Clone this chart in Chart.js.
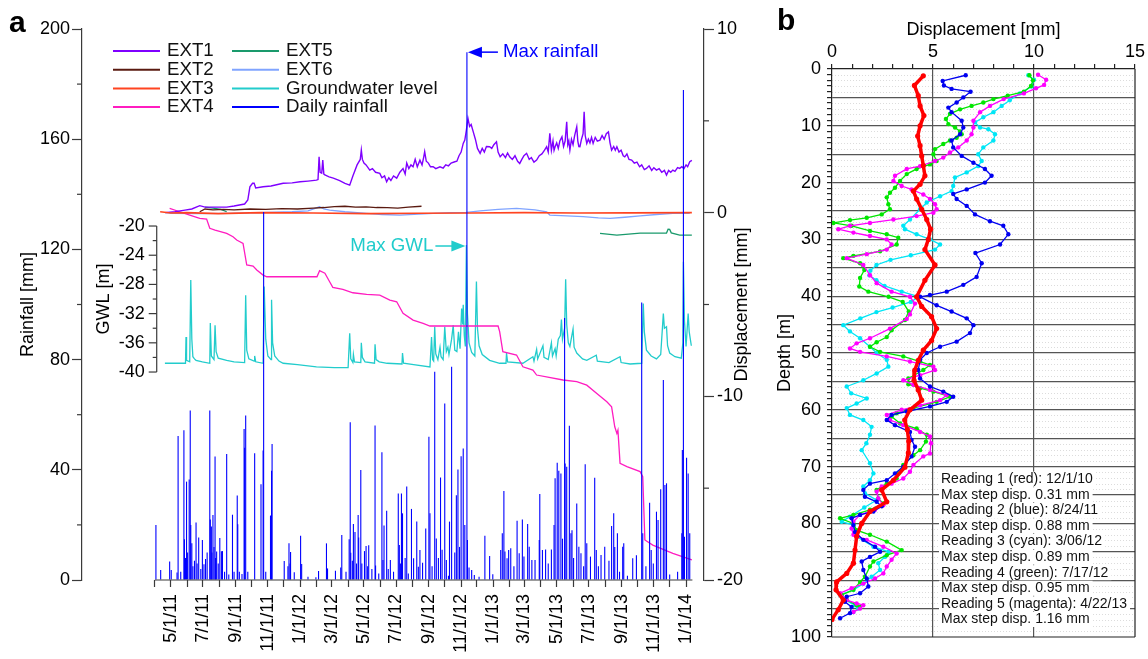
<!DOCTYPE html>
<html>
<head>
<meta charset="utf-8">
<title>Rainfall, groundwater level and displacement</title>
<script src="https://cdn.jsdelivr.net/npm/chart.js@4.4.1/dist/chart.umd.min.js"></script>
<style>
  body { margin: 0; background: #fff; }
  #chartA { position: absolute; left: 0; top: 0; }
  #chartB { position: absolute; left: 773px; top: 0; }
</style>
</head>
<body>
<canvas id="chartA" width="773" height="659"></canvas>
<canvas id="chartB" width="375" height="659"></canvas>
<script>
// ---------- panel a: days counted from 4/1/2011 ----------
const monthDays = [0,30,61,91,122,153,183,214,244,275,306,335,366,396,427,457,488,519,549,580,610,641,672,700,731,761,792,822,853,884,914,945,975,1006];
const monthLabels = ['','5/1/11','','7/1/11','','9/1/11','','11/1/11','','1/1/12','','3/1/12','','5/1/12','','7/1/12','','9/1/12','','11/1/12','','1/1/13','','3/1/13','','5/1/13','','7/1/13','','9/1/13','','11/1/13','','1/1/14'];
const rainMajor = [0, 40, 80, 120, 160, 200];
const rainMinor = [20, 60, 100, 140, 180];
const dispMajor = [-20, -10, 0, 10];
const dispMinor = [-15, -5, 5];
const gwlMajor = [-20, -24, -28, -32, -36, -40];
const gwlMinor = [-22, -26, -30, -34, -38];

// daily rainfall [mm]
const rainDays = [2,11,28,31,42,44,49,55,56,58,60,62,65,67,68,70,72,75,78,80,83,87,90,93,96,99,104,105,107,108,110,112,114,115,117,120,123,126,128,132,136,140,147,150,156,157,160,165,169,170,172,176,189,201,205,206,210,219,221,222,245,252,254,256,257,264,276,278,290,305,310,325,327,342,352,354,362,368,370,371,374,376,379,382,385,386,390,392,397,400,403,405,411,417,418,424,430,432,434,439,442,446,452,461,463,465,467,469,474,477,480,486,490,496,499,502,507,513,519,521,525,530,533,537,541,544,549,552,556,558,562,568,571,574,577,580,584,587,591,592,595,600,605,614,625,634,640,655,658,661,663,667,670,674,680,686,690,696,699,706,709,714,720,728,729,734,740,745,751,756,758,762,765,769,772,776,777,780,785,788,790,793,799,803,807,812,815,818,825,833,836,840,845,852,860,865,869,871,876,880,886,888,895,905,912,922,924,930,937,940,944,950,953,958,963,966,969,975,990,998,999,1001,1003,1007,1010,1013];
const rainMm = [20,3.6,6.7,3.6,2.7,52.3,3,54.4,14.8,8,35.7,10,36.5,61.5,20,13.3,5,7,20.9,6,15.4,4,14.5,5.7,7.6,10,61.5,22,19.4,10,23.6,12,44.8,8,10.3,6,15.2,10.4,10.5,3,45.7,2,23.7,3,30.7,20.2,3,2.2,54.8,48,59.7,3,46,34.8,47,133.6,3,23.4,39.7,49.4,6.9,5,13.3,6,10.2,2.8,16.1,5.8,1.2,1,3.3,13.3,4.2,3.4,4.5,16.3,3,14.8,57.3,9.9,7,20.3,17.4,6,23.6,15.4,39.9,6,10.5,12.3,5,12.6,4,56.1,5.3,2.4,46.4,7.3,19.8,25.1,4,7.3,3,31.4,12.7,6,31.4,24.2,8,33.9,2.4,25.8,7.9,21.2,4.8,10.9,6.3,18.7,52,24.2,5,75.6,15.1,8,37.2,11,64.1,7.3,1.5,21.2,77.4,10,30.8,40.1,12,44.9,47.7,20,191.6,14.5,4.5,3.6,1.8,1.2,16.1,8.7,2.1,10.9,17,32.3,10.3,7.9,10.9,11.5,5,21.5,9.7,22,8.5,20.3,12.1,7.3,7.3,14.5,31.2,10.9,11.1,6,11.1,20,36.9,42.6,39.7,38.7,15,95.1,42.3,41.1,56,17,18.1,8,27.8,12.1,9.7,5,42,13.3,8.5,37.1,10.9,5,9.1,12.1,7,19.6,24.2,12,17,3,12.1,13.3,1.5,7.9,9,100.7,17,5,28,10.9,6,24.8,21.8,32.9,72.6,34.5,35.1,2,3,17,47.2,177.9,15.7,44.4,38.7,17];

// groundwater level [m]
const gwlDays = [19,50,58,59,60,66,68,70,72,75,78,90,104,105,107,112,114,116,120,136,150,170,172,174,178,188,189,191,205,207,210,214,220,221,223,227,235,243,270,306,340,366,369,371,375,376,378,390,391,393,398,416,417,419,425,440,468,469,471,490,521,524,526,528,530,532,536,540,542,546,549,552,555,557,562,565,568,572,575,578,581,583,584,586,588,590,592,595,600,606,609,611,614,620,634,653,665,666,668,697,716,718,723,725,735,737,745,751,753,758,760,764,768,770,772,776,778,780,783,786,792,794,799,810,818,836,838,860,881,883,900,922,925,927,931,940,950,958,963,965,969,971,975,985,997,1000,1001,1003,1006,1010,1012,1016];
const gwlM = [-38.8,-38.8,-38.8,-35.2,-38.4,-38.6,-27.4,-35.5,-37.9,-38.2,-38.4,-38.6,-38.8,-33.3,-37.8,-38.3,-33.6,-37.2,-38.1,-38.4,-38.6,-38.7,-29.5,-37.0,-38.2,-38.5,-37.8,-38.6,-38.8,-28.3,-35.5,-37.8,-38.3,-30.1,-36.0,-37.8,-38.5,-38.8,-39.0,-39.3,-39.4,-39.4,-34.7,-38.2,-38.7,-37.6,-38.6,-38.7,-36.0,-38.0,-38.6,-38.8,-36.2,-38.3,-38.6,-38.8,-38.9,-37.4,-38.8,-39.0,-39.3,-35.2,-38.3,-38.5,-33.8,-37.5,-38.3,-36.6,-37.9,-38.3,-33.8,-37.2,-36.6,-37.6,-35.5,-33.6,-37.0,-37.2,-34.5,-36.8,-31.3,-33.5,-30.8,-35.0,-36.5,-22.6,-32.0,-36.0,-37.3,-37.8,-27.6,-34.0,-36.4,-37.6,-38.4,-38.8,-38.8,-37.4,-38.6,-38.8,-37.9,-38.5,-36.9,-38.2,-36.4,-38.0,-38.3,-36.0,-37.8,-36.8,-37.8,-35.5,-35.0,-32.8,-35.5,-34.0,-27.3,-33.5,-36.0,-36.5,-34.1,-36.6,-37.4,-38.2,-38.4,-37.7,-38.5,-38.7,-37.9,-38.7,-38.9,-38.8,-30.6,-34.5,-37.0,-37.8,-38.2,-37.6,-32.0,-34.0,-33.8,-36.4,-37.4,-37.9,-38.1,-36.0,-24.9,-33.0,-36.5,-32.0,-34.5,-36.4];

// extensometers [mm]
const ext1Days = [19,38,57,70,85,95,110,136,150,170,176,180,185,188,191,205,220,243,260,275,290,306,309,311,313,316,318,320,322,330,338,350,360,369,375,383,389,391,393,396,400,407,412,418,426,430,435,439,443,447,452,458,464,470,474,477,481,485,489,493,497,502,506,509,511,514,518,522,527,532,540,546,551,556,561,568,572,576,580,584,587,590,593,596,599,603,607,611,616,620,624,628,634,638,642,647,650,654,659,664,668,672,677,682,687,691,695,699,704,709,713,718,723,728,733,738,742,745,748,751,754,756,758,761,764,767,771,774,777,780,782,784,786,789,792,795,799,801,803,805,808,811,813,815,818,821,824,827,830,834,838,843,847,851,855,859,862,865,869,872,875,879,883,887,890,894,898,903,908,913,918,922,927,931,936,941,945,950,955,960,965,969,973,977,981,985,990,994,998,1002,1006,1009,1013,1017];
const ext1Mm = [0,0.05,0.14,0.2,0.38,0.3,0.3,0.3,0.36,0.47,0.69,1.41,1.6,1.6,1.34,1.41,1.45,1.6,1.62,1.68,1.72,1.77,1.8,3.04,2.2,2.15,2.86,2.1,2.05,1.95,1.88,1.75,1.6,1.5,2.0,2.6,2.9,3.41,2.9,2.7,2.6,2.32,2.4,2.2,2.14,1.9,2.0,1.68,1.9,1.75,2.0,1.88,2.2,2.4,2.1,2.7,2.4,2.6,2.5,2.9,2.5,2.86,2.6,3.0,3.32,2.8,2.7,2.5,2.5,2.4,2.5,2.43,2.6,2.55,2.7,2.77,2.8,3.1,3.3,3.77,3.95,4.5,5.13,4.7,4.8,4.4,4.0,3.5,3.23,3.5,3.3,3.6,3.59,3.5,3.7,3.86,3.3,3.04,3.2,3.0,3.25,3.04,2.9,3.1,2.8,2.68,2.9,3.1,3.23,2.9,3.0,2.75,2.86,3.1,3.2,3.4,3.59,3.3,4.32,3.4,3.9,3.4,3.59,3.8,3.5,3.9,4.13,3.6,3.9,4.95,3.7,3.9,3.41,4.0,3.7,4.2,4.68,3.9,3.6,3.59,4.0,4.3,5.49,4.2,3.77,4.0,3.8,4.1,3.77,4.1,3.9,3.95,4.2,4.0,4.3,4.4,3.8,3.41,3.6,3.4,3.59,3.3,3.4,3.1,3.04,3.2,2.9,2.86,2.7,2.75,2.5,2.6,2.35,2.41,2.55,2.3,2.45,2.32,2.4,2.2,2.3,2.05,2.3,2.2,2.32,2.25,2.45,2.41,2.5,2.4,2.6,2.5,2.77,2.85];
const ext2Days = [85,95,110,130,150,180,210,240,270,300,320,340,360,380,400,420,440,460,480,505];
const ext2Mm = [0.05,0.2,0.15,0.18,0.15,0.2,0.18,0.22,0.2,0.25,0.28,0.33,0.35,0.3,0.32,0.28,0.27,0.25,0.3,0.35];
const ext3Days = [10,30,60,120,200,300,400,500,600,700,800,900,1017];
const ext3Mm = [0.05,-0.02,0,-0.05,0,-0.02,-0.05,-0.03,-0.02,0,-0.02,-0.01,0];
const ext4Days = [28,47,66,85,98,104,114,136,148,155,167,174,186,193,205,212,307,312,322,331,337,356,375,401,426,445,458,470,489,508,521,650,653,659,685,697,716,723,773,799,818,837,856,865,871,875,877,881,894,919,924,928,943,981,1017];
const ext4Mm = [0.23,0.05,-0.13,-0.31,-0.35,-0.85,-0.95,-1.13,-1.31,-1.49,-1.67,-2.85,-2.91,-3.12,-3.4,-3.49,-3.49,-3.16,-3.3,-3.76,-4.07,-4.18,-4.36,-4.45,-4.49,-4.76,-4.85,-5.48,-5.85,-6.03,-6.17,-6.17,-6.48,-7.57,-7.75,-8.39,-8.57,-8.84,-9.11,-9.2,-9.39,-9.84,-10.3,-10.57,-11.66,-12.02,-11.84,-13.65,-13.83,-14.1,-14.38,-17.82,-18.1,-18.55,-18.91];
const ext5Days = [95,110,125,136,137,843,875,919,969,972,975,978,994,1017];
const ext5Mm = [0.3,0.25,0.18,0.05,null,-1.13,-1.22,-1.11,-1.11,-0.9,-0.91,-1.1,-1.22,-1.22];
const ext6Days = [20,34,80,142,200,260,290,312,320,331,360,401,430,464,500,527,560,590,616,650,685,720,742,748,780,811,840,862,890,919,950,981,1013];
const ext6Mm = [0,-0.04,-0.05,-0.04,0,0.05,0.1,0.32,0.2,0.14,0.05,-0.04,-0.1,-0.13,-0.08,-0.04,0,0.02,0.1,0.18,0.23,0.15,0.05,-0.13,-0.18,-0.22,-0.28,-0.31,-0.25,-0.18,-0.1,-0.04,-0.04];

// ---------- panel b: inclinometer readings ----------
const depthLabels = [0,10,20,30,40,50,60,70,80,90,100];
const dispLabelsB = [0,5,10,15];
const r1Depth = [1.2,2.9,4.7,6.5,8.2,10,11.8,13.5,15.3,17,18.8,20.3,21.5,22.9,24.7,26.5,28.2,30,31.8,34.5,37.2,40.1,41.8,43.6,45.7,47.8,49.5,51.3,53,54.8,56.5,58.3,60,61.8,63.5,65.5,67.6,70.1,72.4,74.1,76.2,77.9,80,82.3,84.7,87,88.8,90.3,91.7,93.5,95.2,96.9];
const r1Disp = [4.52,4.08,4.27,4.36,4.55,4.36,4.24,4.36,4.44,4.52,4.6,4.36,4.03,4.19,4.44,4.69,4.88,4.77,4.6,5.1,4.6,4.19,4.44,4.93,5.18,4.93,4.52,4.27,4.1,4.06,4.27,4.44,3.86,3.6,3.73,3.8,3.78,3.61,3.04,2.46,2.71,1.88,1.47,1.22,1.14,1.06,0.73,0.23,0.2,0.56,0.31,0];
const r2Depth = [1.1,2.1,2.9,3.5,4,5,5.9,6.8,7.6,9.1,10.3,11.5,12.6,13.8,15.3,16.5,17.6,18.8,20,21.2,22,22.9,24.1,25.6,26.8,27.6,29.1,30.9,32.4,34.2,36.6,38,39.2,39.8,40.1,41.6,42.7,43.9,45.1,46.5,48,48.9,50,51.2,53,54.5,55.9,56.8,57.7,58.6,59.4,60.3,60.9,61.8,62.7,63.9,65.3,66.5,68.2,70,71.2,72.4,73,74.1,75.3,76.2,77,77.9,78.5,79.1,80.3,81.5,82.9,84.1,85,85.9,86.7,88.2,89.7,91.1,92.3,92.9,93.8,94.7,95.8,96.7];
const r2Disp = [6.62,5.48,5.54,5.92,6.86,6.5,6.17,5.76,5.92,6.42,6.5,6.34,5.92,6.0,6.42,7.0,7.57,7.9,7.57,6.67,6.0,6.17,6.67,7.08,7.82,8.48,8.73,8.32,7.1,7.41,7.16,6.5,5.68,4.85,4.36,5.18,5.92,6.67,7.0,6.83,6.17,5.35,4.69,4.36,4.27,4.36,4.85,5.51,6.0,5.68,4.85,3.7,2.95,2.71,3.12,3.86,3.94,4.11,3.94,3.53,3.12,2.71,1.88,1.55,1.63,2.21,2.46,2.05,1.39,0.97,1.06,1.14,1.55,2.13,2.38,1.88,1.47,1.55,1.72,1.8,1.39,0.73,0.64,0.97,0.89,0.4];
const r3Depth = [1.1,1.9,3.1,4.3,5.5,6.5,7.6,8.5,9.4,10.3,10.6,11.5,12.6,13.8,15,16.2,17.1,18.2,19.1,20.6,21.5,22.4,23.5,24.7,26.5,27.6,28.2,29.1,30,30.9,31.8,32.8,33.6,34.5,35.5,36.3,37.2,38.2,39.2,40.1,41,42,42.8,43.9,45.1,46.2,47.4,48.9,50,51.2,52.4,53.6,54.8,55.9,57.1,58,58.9,59.7,60.9,61.8,63,64.4,65.9,67.1,69.4,71.2,72.4,73.5,74.7,75.9,77.2,78.8,79.7,80.3,82.3,84.1,85,85.9,87,88.2,89.4,90.6,91.7,92.6,93.5,94.4,95,95.6];
const r3Disp = [9.72,10.0,9.88,9.3,8.8,8.4,7.99,7.49,7.08,7.33,7.74,8.07,7.99,7.49,7.24,7.41,7.24,6.67,6.09,6.0,5.92,5.35,4.69,4.36,3.86,3.53,3.61,4.19,4.85,5.35,5.1,3.9,2.9,2.2,1.9,1.85,2.2,2.6,3.45,4.3,3.9,3.0,2.2,1.4,0.56,0.89,1.39,1.88,2.21,2.71,2.79,2.21,1.55,0.73,0.95,1.72,1.22,0.73,0.89,1.55,1.96,1.88,1.7,1.47,1.88,2.05,1.88,1.55,1.63,2.21,1.6,0.89,0.48,1.06,1.22,2.05,2.8,2.62,2.29,2.38,1.96,1.55,1.06,0.4,0.64,1.14,1.3,1.06];
const r4Depth = [1.1,2,3,4,4.7,5.3,5.9,6.5,7.1,7.9,8.8,9.7,10.3,11,11.5,12.1,12.6,13.2,14.1,15,16.2,16.8,17.6,18.5,19.7,20.9,21.8,22.6,23.8,24.7,25.6,26.2,26.6,27.1,27.6,28.5,29.1,29.7,30.9,32.1,32.9,33.3,34.2,35.4,36.8,38.3,39.2,40.1,41,42.7,44.2,46,47.2,48.1,48.9,49.8,50.6,51.5,52.1,53,54.5,55.5,56.2,56.8,57.7,58.6,59.7,60.6,61.2,62.4,63.3,64.4,65.6,67.1,68,69.7,71.2,72.1,73,74.1,75.6,76.5,77.6,78.5,79.1,80,81.2,82,83.2,84.7,85.6,86.7,87.6,89.4,90.3,91.7,92.6,93.5,94.4,94.7];
const r4Disp = [9.77,9.95,9.85,9.5,8.7,7.99,7.49,6.91,6.34,5.84,5.64,5.76,6.09,6.34,6.42,6.17,5.84,5.51,5.1,5.02,5.18,4.85,4.19,3.7,3.37,3.12,2.87,2.71,2.79,2.87,2.46,1.72,0.89,0.07,0.97,1.88,2.71,3.28,3.2,2.38,1.06,0.56,1.39,1.6,1.39,1.35,1.8,2.8,3.5,3.8,3.61,2.95,2.71,2.21,1.88,2.38,3.53,4.36,4.85,4.52,3.78,3.78,4.36,5.02,5.84,5.18,4.03,3.2,2.95,3.37,4.19,4.69,4.65,4.36,4.03,3.53,3.28,3.2,2.71,2.21,2.29,2.54,1.88,1.06,0.4,1.06,1.22,1.88,2.71,3.45,2.71,2.05,1.88,1.63,1.39,1.06,0.48,0.73,1.22,1.39];
const r5Depth = [1,1.9,2.8,3.4,4.3,5.3,6.5,7.6,9.1,10.3,11.5,12.6,13.8,14.7,15.6,16.2,17.1,17.6,18.8,19.7,20.6,21.2,22.1,22.9,23.8,24.7,25.3,25.9,26.5,27.1,27.6,28.2,28.8,29.4,30,30.9,31.8,32.6,33.3,34.5,36.3,37.7,39.2,40.1,41.3,43.2,44,45.7,47.4,48.3,49.2,49.8,50.6,51.5,52.4,53,53.9,54.8,55.6,56.5,57.4,58.3,59.2,60,60.9,61.8,62.7,63.9,64.7,65.9,67.7,68.2,69.7,70.9,72.1,73,73.5,74.4,75.6,76.8,77.6,78.5,79.7,80.9,82,82.9,84.1,85.3,86.4,87.6,88.8,89.7,90.6,91.4,92.3,93.5,94.1,94.4,95,95.6];
const r5Disp = [10.2,10.6,10.5,10.1,9.5,8.5,7.82,7.33,7.0,7.0,6.91,6.67,6.25,5.84,5.51,5.1,4.36,3.7,3.12,3.04,3.45,3.94,4.52,4.85,5.1,5.18,5.02,4.19,3.04,1.88,0.89,0.31,1.06,1.88,2.71,2.95,2.71,1.72,0.73,1.55,1.88,2.21,2.95,3.86,4.11,3.86,3.7,2.87,1.88,1.22,0.89,1.39,2.71,3.86,5.02,5.1,4.36,3.53,4.03,4.85,5.68,5.35,4.36,3.45,2.71,2.87,3.53,4.36,4.85,4.9,4.85,4.52,4.03,3.86,3.53,2.95,2.46,2.21,2.29,2.54,2.13,1.39,1.06,0.97,1.06,1.72,2.54,3.2,2.95,2.71,2.54,2.13,1.55,0.97,0.4,0.73,1.22,1.55,1.39,1.06];
const readingNotes = [
  'Reading 1 (red): 12/1/10', 'Max step disp. 0.31 mm',
  'Reading 2 (blue): 8/24/11', 'Max step disp. 0.88 mm',
  'Reading 3 (cyan): 3/06/12', 'Max step disp. 0.89 mm',
  'Reading 4 (green): 7/17/12', 'Max step disp. 0.95 mm',
  'Reading 5 (magenta): 4/22/13', 'Max step disp. 1.16 mm'
];

const FAMILY = "'Liberation Sans', Arial, sans-serif";
const AXIS = '#3a3a3a';
Chart.defaults.font.family = FAMILY;
Chart.defaults.font.size = 18;
Chart.defaults.color = '#000';

const pair = (xs, ys) => xs.map((x, i) => ({ x: x, y: ys[i] }));

function strokeLine(ctx, x1, y1, x2, y2) {
  ctx.beginPath(); ctx.moveTo(x1, y1); ctx.lineTo(x2, y2); ctx.stroke();
}
function vText(ctx, text, cx, cy, color) {
  ctx.save();
  ctx.translate(cx, cy); ctx.rotate(-Math.PI / 2);
  ctx.font = '18px ' + FAMILY; ctx.fillStyle = color || '#000';
  ctx.textAlign = 'center'; ctx.textBaseline = 'middle';
  ctx.fillText(text, 0, 0);
  ctx.restore();
}

// leyenda, ejes secundarios y anotaciones del panel a
const legendCols = [['EXT1', 'EXT2', 'EXT3', 'EXT4'], ['EXT5', 'EXT6', 'Groundwater level', 'Daily rainfall']];
const panelADecor = {
  id: 'panelADecor',
  afterDraw(chart) {
    const { ctx, chartArea: area } = chart;
    const { x, rain, disp, gwl } = chart.scales;
    ctx.save();
    ctx.strokeStyle = AXIS; ctx.lineWidth = 1.2;
    strokeLine(ctx, x.getPixelForValue(0), area.bottom, x.getPixelForValue(1018), area.bottom);
    rainMinor.forEach(v => { const y = rain.getPixelForValue(v); strokeLine(ctx, area.left - 5, y, area.left, y); });
    dispMinor.forEach(v => { const y = disp.getPixelForValue(v); strokeLine(ctx, area.right, y, area.right + 5, y); });

    // eje GWL dentro del gráfico
    const gx = x.getPixelForValue(3.5);
    strokeLine(ctx, gx, gwl.getPixelForValue(gwlMajor[0]), gx, gwl.getPixelForValue(gwlMajor[gwlMajor.length - 1]));
    ctx.font = '18px ' + FAMILY; ctx.fillStyle = '#000';
    ctx.textAlign = 'right'; ctx.textBaseline = 'middle';
    gwlMajor.forEach(v => {
      const y = gwl.getPixelForValue(v);
      strokeLine(ctx, gx - 8, y, gx, y);
      ctx.fillText(String(v), gx - 12, y);
    });
    gwlMinor.forEach(v => { const y = gwl.getPixelForValue(v); strokeLine(ctx, gx - 4, y, gx, y); });

    // títulos de ejes
    const midY = (area.top + area.bottom) / 2;
    vText(ctx, 'Rainfall [mm]', 28, midY);
    vText(ctx, 'GWL [m]', 104, gwl.getPixelForValue(-30));
    vText(ctx, 'Displacement [mm]', area.right + 38, midY);

    // leyenda en dos columnas
    const colX = [113, 232];
    ctx.font = '18.7px ' + FAMILY;
    legendCols.forEach((col, ci) => col.forEach((label, ri) => {
      const ds = chart.data.datasets.find(d => d.label === label);
      const y = 51 + ri * 18.7;
      ctx.strokeStyle = ds.borderColor; ctx.lineWidth = 2;
      strokeLine(ctx, colX[ci], y, colX[ci] + 47, y);
      ctx.fillStyle = '#111'; ctx.textAlign = 'left'; ctx.textBaseline = 'middle';
      ctx.fillText(label, colX[ci] + 54, y);
    }));

    // Max rainfall
    const iR = rainMm.indexOf(Math.max(...rainMm));
    const rx = x.getPixelForValue(rainDays[iR]), ry = rain.getPixelForValue(rainMm[iR]);
    ctx.strokeStyle = '#0000ff'; ctx.fillStyle = '#0000ff'; ctx.lineWidth = 1.5;
    strokeLine(ctx, rx + 12, ry, rx + 31, ry);
    ctx.beginPath(); ctx.moveTo(rx + 1, ry); ctx.lineTo(rx + 15, ry - 5.5); ctx.lineTo(rx + 15, ry + 5.5); ctx.closePath(); ctx.fill();
    ctx.textAlign = 'left'; ctx.fillText('Max rainfall', rx + 36, ry);

    // Max GWL
    const iG = gwlM.indexOf(Math.max(...gwlM));
    const tx = x.getPixelForValue(gwlDays[iG]), ty = gwl.getPixelForValue(gwlM[iG]) + 1;
    ctx.strokeStyle = '#20cccc'; ctx.fillStyle = '#20cccc';
    strokeLine(ctx, tx - 31, ty, tx - 12, ty);
    ctx.beginPath(); ctx.moveTo(tx - 1, ty); ctx.lineTo(tx - 15, ty - 5.5); ctx.lineTo(tx - 15, ty + 5.5); ctx.closePath(); ctx.fill();
    ctx.textAlign = 'right'; ctx.fillText('Max GWL', tx - 33, ty);

    // etiqueta del panel
    ctx.fillStyle = '#000'; ctx.font = 'bold 30px ' + FAMILY;
    ctx.textAlign = 'left'; ctx.textBaseline = 'alphabetic';
    ctx.fillText('a', 9, 32);
    ctx.restore();
  }
};

const extLine = (label, days, vals, color, width) => ({
  label: label, data: pair(days, vals), yAxisID: 'disp', xAxisID: 'x',
  borderColor: color, backgroundColor: color, borderWidth: width || 1.3, order: 1
});

new Chart(document.getElementById('chartA'), {
  type: 'line',
  data: {
    datasets: [
      { type: 'bar', label: 'Daily rainfall', data: pair(rainDays, rainMm), xAxisID: 'x', yAxisID: 'rain',
        backgroundColor: '#0000ff', borderColor: '#0000ff', barThickness: 1.1, inflateAmount: 0, order: 0 },
      extLine('EXT3', ext3Days, ext3Mm, '#ff4420', 1.6),
      extLine('EXT1', ext1Days, ext1Mm, '#7f00ff', 1.4),
      extLine('EXT2', ext2Days, ext2Mm, '#5a1a10'),
      extLine('EXT4', ext4Days, ext4Mm, '#ff1cc0'),
      extLine('EXT5', ext5Days, ext5Mm, '#1a9a6c'),
      extLine('EXT6', ext6Days, ext6Mm, '#80a4ff'),
      { label: 'Groundwater level', data: pair(gwlDays, gwlM), xAxisID: 'x', yAxisID: 'gwl',
        borderColor: '#22cccc', backgroundColor: '#22cccc', borderWidth: 1.3, order: 2 }
    ]
  },
  options: {
    responsive: false,
    animation: false,
    layout: { padding: { top: 29, left: 0, right: 0, bottom: 0 } },
    elements: { point: { radius: 0 }, line: { tension: 0 } },
    plugins: { legend: { display: false }, tooltip: { enabled: false } },
    scales: {
      x: {
        type: 'linear', min: -138, max: 1040, offset: false,
        afterBuildTicks: s => { s.ticks = monthDays.map(v => ({ value: v })); },
        afterFit: s => { s.height = 79; },
        border: { display: false },
        grid: { drawOnChartArea: false, offset: false, tickLength: 7, color: AXIS, tickWidth: 1.2 },
        ticks: { autoSkip: false, minRotation: 90, maxRotation: 90, padding: 7,
                 callback: (v, i) => monthLabels[i] }
      },
      rain: {
        type: 'linear', position: 'left', min: 0, max: 200,
        afterBuildTicks: s => { s.ticks = rainMajor.map(v => ({ value: v })); },
        afterFit: s => { s.width = 82; },
        border: { color: AXIS, width: 1.2 },
        grid: { drawOnChartArea: false, tickLength: 10, color: AXIS, tickWidth: 1.2 },
        ticks: { padding: 2 }
      },
      disp: {
        type: 'linear', position: 'right', min: -20, max: 10,
        afterBuildTicks: s => { s.ticks = dispMajor.map(v => ({ value: v })); },
        afterFit: s => { s.width = 69; },
        border: { color: AXIS, width: 1.2 },
        grid: { drawOnChartArea: false, tickLength: 10, color: AXIS, tickWidth: 1.2 },
        ticks: { padding: 3 }
      },
      gwl: { type: 'linear', position: 'left', display: false, min: -68.49, max: 6.99 }
    }
  },
  plugins: [panelADecor]
});

// ---------- panel b ----------
const panelBDecor = {
  id: 'panelBDecor',
  beforeDraw(chart) {
    const { ctx, chartArea: a } = chart;
    const y = chart.scales.y;
    ctx.save();
    ctx.strokeStyle = '#dcdcdc'; ctx.lineWidth = 1; ctx.setLineDash([1, 2]);
    for (let d = 1; d < 100; d++) {
      if (d % 5 === 0) continue;
      const py = Math.round(y.getPixelForValue(d)) + 0.5;
      strokeLine(ctx, a.left, py, a.right, py);
    }
    ctx.restore();
  },
  afterDraw(chart) {
    const { ctx, chartArea: a } = chart;
    const { x, y } = chart.scales;
    ctx.save();
    ctx.strokeStyle = '#222'; ctx.lineWidth = 1.2;
    strokeLine(ctx, a.right, a.top, a.right, a.bottom);
    strokeLine(ctx, a.left, a.bottom, a.right, a.bottom);

    // cuadro de texto con las lecturas
    ctx.font = '14px ' + FAMILY; ctx.textAlign = 'left'; ctx.textBaseline = 'middle';
    const tx = x.getPixelForValue(5) + 8;
    const ty = y.getPixelForValue(72.2);
    readingNotes.forEach((t, i) => {
      const yy = ty + i * 15.6;
      const w = ctx.measureText(t).width;
      ctx.fillStyle = '#fff'; ctx.fillRect(tx - 2, yy - 7.5, w + 5, 15);
      ctx.fillStyle = '#111'; ctx.fillText(t, tx, yy);
    });

    ctx.fillStyle = '#000'; ctx.font = 'bold 30px ' + FAMILY;
    ctx.textBaseline = 'alphabetic';
    ctx.fillText('b', 4, 30);
    ctx.restore();
  }
};

const reading = (label, depth, disp, color, width, radius) => ({
  label: label, data: pair(disp, depth),
  borderColor: color, backgroundColor: color, pointBackgroundColor: color,
  borderWidth: width, pointRadius: radius, pointBorderWidth: 0
});

const stepTicks = (lo, hi) => { const t = []; for (let v = lo; v <= hi; v++) t.push({ value: v }); return t; };

new Chart(document.getElementById('chartB'), {
  type: 'line',
  data: {
    datasets: [
      reading('Reading 1', r1Depth, r1Disp, '#ff0000', 3.5, 2.6),
      reading('Reading 2', r2Depth, r2Disp, '#0000f0', 1.3, 2.2),
      reading('Reading 5', r5Depth, r5Disp, '#ff00ff', 1.3, 2.2),
      reading('Reading 4', r4Depth, r4Disp, '#00e600', 1.3, 2.2),
      reading('Reading 3', r3Depth, r3Disp, '#00e6f6', 1.3, 2.2)
    ]
  },
  options: {
    responsive: false,
    animation: false,
    layout: { padding: { top: 0, left: 0, right: 13, bottom: 22 } },
    elements: { line: { tension: 0 } },
    plugins: { legend: { display: false }, tooltip: { enabled: false } },
    scales: {
      x: {
        type: 'linear', position: 'top', min: 0, max: 15,
        afterBuildTicks: s => { s.ticks = stepTicks(0, 15); },
        afterFit: s => { s.height = 69; },
        border: { color: '#222', width: 1.2 },
        grid: {
          color: c => (c.tick && (c.tick.value === 5 || c.tick.value === 10)) ? '#555' : 'rgba(0,0,0,0)',
          lineWidth: 1.2, tickColor: '#222', tickLength: 5
        },
        ticks: { autoSkip: false, maxRotation: 0, padding: 1,
                 callback: v => dispLabelsB.includes(v) ? String(v) : '' },
        title: { display: true, text: 'Displacement [mm]', padding: { top: 19, bottom: 0 } }
      },
      y: {
        type: 'linear', position: 'left', reverse: true, min: 0, max: 100,
        afterBuildTicks: s => { s.ticks = stepTicks(0, 100); },
        afterFit: s => { s.width = 59; },
        border: { color: '#222', width: 1.2 },
        grid: {
          color: c => (c.tick && c.tick.value % 5 === 0 && c.tick.value > 0 && c.tick.value < 100) ? '#555' : 'rgba(0,0,0,0)',
          lineWidth: 1.2, tickColor: '#222', tickLength: 5
        },
        ticks: { autoSkip: false, padding: 6,
                 callback: v => depthLabels.includes(v) ? String(v) : '' },
        title: { display: true, text: 'Depth [m]', padding: { top: 1, bottom: 0 } }
      }
    }
  },
  plugins: [panelBDecor]
});
</script>
</body>
</html>
